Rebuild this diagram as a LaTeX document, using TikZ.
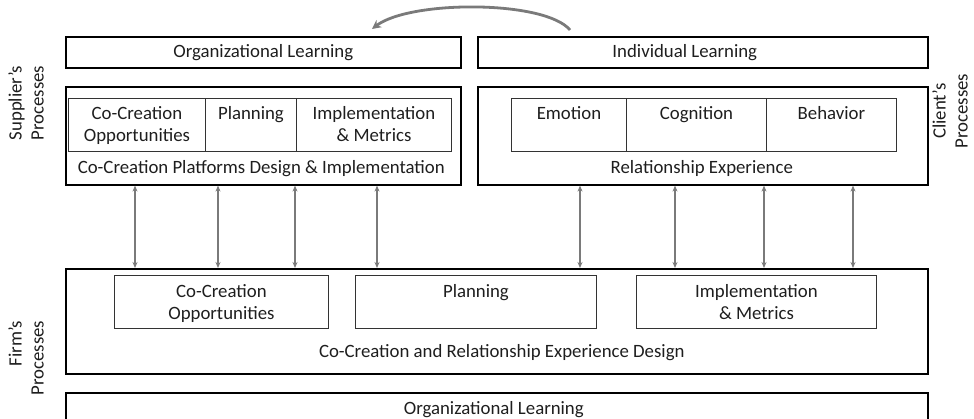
\documentclass[tikz,border=0pt]{standalone}
\usepackage{fontspec}
\setmainfont{Carlito}
\usetikzlibrary{arrows.meta}
\definecolor{txtc}{HTML}{1E1E1E}
\definecolor{arrc}{HTML}{7A7A7A}
\begin{document}
\begin{tikzpicture}[x=1pt,y=-1pt,
  every node/.style={font=\fontsize{18.8}{22}\selectfont, text=txtc},
  box/.style={draw=black, line width=1.6pt, inner sep=0pt, anchor=north west},
  cell/.style={draw=black!80, line width=0.9pt, inner sep=0pt, anchor=north west},
  txt/.style={inner sep=0pt, align=center},
  biarrow/.style={draw=arrc, line width=1.5pt, {Stealth[length=6pt,width=5pt]}-{Stealth[length=6pt,width=5pt]}},
  curvarrow/.style={draw=arrc, line width=2.8pt, -{Stealth[length=9pt,width=9pt]}}
]
\useasboundingbox (0,0) rectangle (974,419);
\clip (0,0) rectangle (974,419);

% top boxes
\node[box, minimum width=395pt, minimum height=31pt] (orgL) at (65,36) {};
\node[txt] (orgLt) at (orgL.center) {Organizational Learning};
\node[box, minimum width=450pt, minimum height=31pt] (indL) at (477,36) {};
\node[txt] (indLt) at ([xshift=-18pt]indL.center) {Individual Learning};

% supplier
\node[box, minimum width=395pt, minimum height=98pt] (sup) at (65,86) {};
\node[cell, minimum width=137pt, minimum height=53pt] (s1) at (68,98) {};
\node[cell, minimum width=91pt, minimum height=53pt] (s2) at (205,98) {};
\node[cell, minimum width=155pt, minimum height=53pt] (s3) at (296,98) {};
\node[txt, anchor=north] (s1t) at ([yshift=-8pt]s1.north) {Co-Creation\\Opportunities};
\node[txt, anchor=north] (s2t) at ([yshift=-8pt]s2.north) {Planning};
\node[txt, anchor=north] (s3t) at ([yshift=-8pt]s3.north) {Implementation\\\& Metrics};
\node[txt] (supt) at ([xshift=-2pt,yshift=17pt]sup.south) {Co-Creation Platforms Design \& Implementation};

% client
\node[box, minimum width=450pt, minimum height=98pt] (cli) at (477,86) {};
\node[cell, minimum width=115pt, minimum height=53pt] (c1) at (511,98) {};
\node[cell, minimum width=140pt, minimum height=53pt] (c2) at (626,98) {};
\node[cell, minimum width=130pt, minimum height=53pt] (c3) at (766,98) {};
\node[txt, anchor=north] (c1t) at ([yshift=-8pt]c1.north) {Emotion};
\node[txt, anchor=north] (c2t) at ([yshift=-8pt]c2.north) {Cognition};
\node[txt, anchor=north] (c3t) at ([yshift=-8pt]c3.north) {Behavior};
\node[txt] (clit) at ([xshift=-1pt,yshift=17pt]cli.south) {Relationship Experience};

% firm
\node[box, minimum width=862pt, minimum height=105pt] (firm) at (65,268) {};
\node[cell, minimum width=214pt, minimum height=53pt] (f1) at (114,275) {};
\node[cell, minimum width=241pt, minimum height=53pt] (f2) at (355,275) {};
\node[cell, minimum width=240pt, minimum height=53pt] (f3) at (636,275) {};
\node[txt, anchor=north] (f1t) at ([yshift=-9pt]f1.north) {Co-Creation\\Opportunities};
\node[txt, anchor=north] (f2t) at ([yshift=-9pt]f2.north) {Planning};
\node[txt, anchor=north] (f3t) at ([yshift=-9pt]f3.north) {Implementation\\\& Metrics};
\node[txt] (firmt) at ([xshift=5pt,yshift=22pt]firm.south) {Co-Creation and Relationship Experience Design};

% bottom
\node[box, minimum width=862pt, minimum height=34pt] (bot) at (65,392) {};
\node[txt] (bott) at ([xshift=-3pt]bot.center) {Organizational Learning};

% side labels
\node[txt, rotate=90] (supl) at (26,103) {Supplier’s\\Processes};
\node[txt, rotate=90, align=right] (firml) at (26,358) {Firm’s\\Processes};
\node[txt, rotate=90] (clil) at (950,111) {Client’s\hspace{12pt}\\Processes};

% vertical arrows
\foreach \dx in {70,153,230,312} {
  \draw[biarrow] ([xshift=\dx pt]sup.south west) -- ([xshift=\dx pt]sup.south west |- firm.north);
}
\foreach \dx in {103,198,287,376} {
  \draw[biarrow] ([xshift=\dx pt]cli.south west) -- ([xshift=\dx pt]cli.south west |- firm.north);
}

% curved arrow
\draw[curvarrow] ([xshift=93pt,yshift=6pt]indL.north west) .. controls ([xshift=68pt,yshift=36pt]indL.north west) and ([xshift=345pt,yshift=36pt]orgL.north west) .. ([xshift=307pt,yshift=7pt]orgL.north west);
\end{tikzpicture}
\end{document}
